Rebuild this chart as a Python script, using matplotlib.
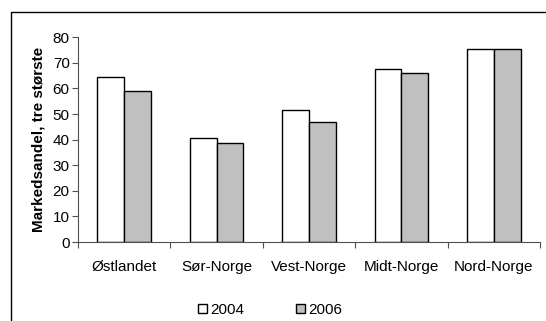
import matplotlib.pyplot as plt
import numpy as np
from matplotlib.patches import Rectangle

plt.rcParams['font.family'] = ['Liberation Sans', 'DejaVu Sans']
plt.rcParams['font.size'] = 11

regions = ['Østlandet', 'Sør-Norge', 'Vest-Norge', 'Midt-Norge', 'Nord-Norge']
share_2004 = [64.5, 40.5, 51.5, 67.8, 75.3]
share_2006 = [58.9, 38.6, 47.0, 65.9, 75.3]
yticks = [0, 10, 20, 30, 40, 50, 60, 70, 80]

fig = plt.figure(figsize=(5.46, 3.21), dpi=100)
ax = fig.add_axes([78 / 546, 1 - 242 / 321, 462 / 546, (242 - 37.3) / 321])

x = np.arange(len(regions))
w = 0.29
b1 = ax.bar(x - w / 2, share_2004, w, color='white', edgecolor='black', linewidth=1, label='2004')
b2 = ax.bar(x + w / 2, share_2006, w, color='#C0C0C0', edgecolor='black', linewidth=1, label='2006')

ax.set_xlim(-0.5, len(regions) - 0.5)
ax.set_ylim(0, 80)
ax.set_yticks(yticks)
ax.spines['top'].set_visible(False)
ax.spines['right'].set_visible(False)
ax.spines['left'].set_color('#505050')
ax.spines['bottom'].set_color('#505050')

# kategorietiketter i midten, tick-streker mellom grupper
ax.set_xticks(np.arange(len(regions) + 1) - 0.5)
ax.set_xticklabels([])
ax.set_xticks(x, minor=True)
ax.set_xticklabels(regions, minor=True)
ax.tick_params(axis='x', which='minor', length=0, pad=13)
ax.tick_params(axis='x', which='major', direction='out', length=4, color='#505050')
ax.tick_params(axis='y', direction='out', length=4, color='#505050', pad=2)

ax.set_ylabel('Markedsandel, tre største', fontweight='bold', fontsize=11, labelpad=5)

fig.legend([b1, b2], ['2004', '2006'], loc='center', bbox_to_anchor=(270 / 546, 1 - 310 / 321),
           ncol=2, frameon=False, handlelength=0.6, handleheight=0.6, handletextpad=0.2,
           columnspacing=3.4)

# ramme rundt figuren (avkuttet til høyre og nederst)
fig.add_artist(Rectangle((10.5 / 546, -0.1), 2, (321 - 12) / 321 + 0.1,
                         transform=fig.transFigure, fill=False, edgecolor='black', linewidth=1))

plt.savefig('out.png', dpi=100)
